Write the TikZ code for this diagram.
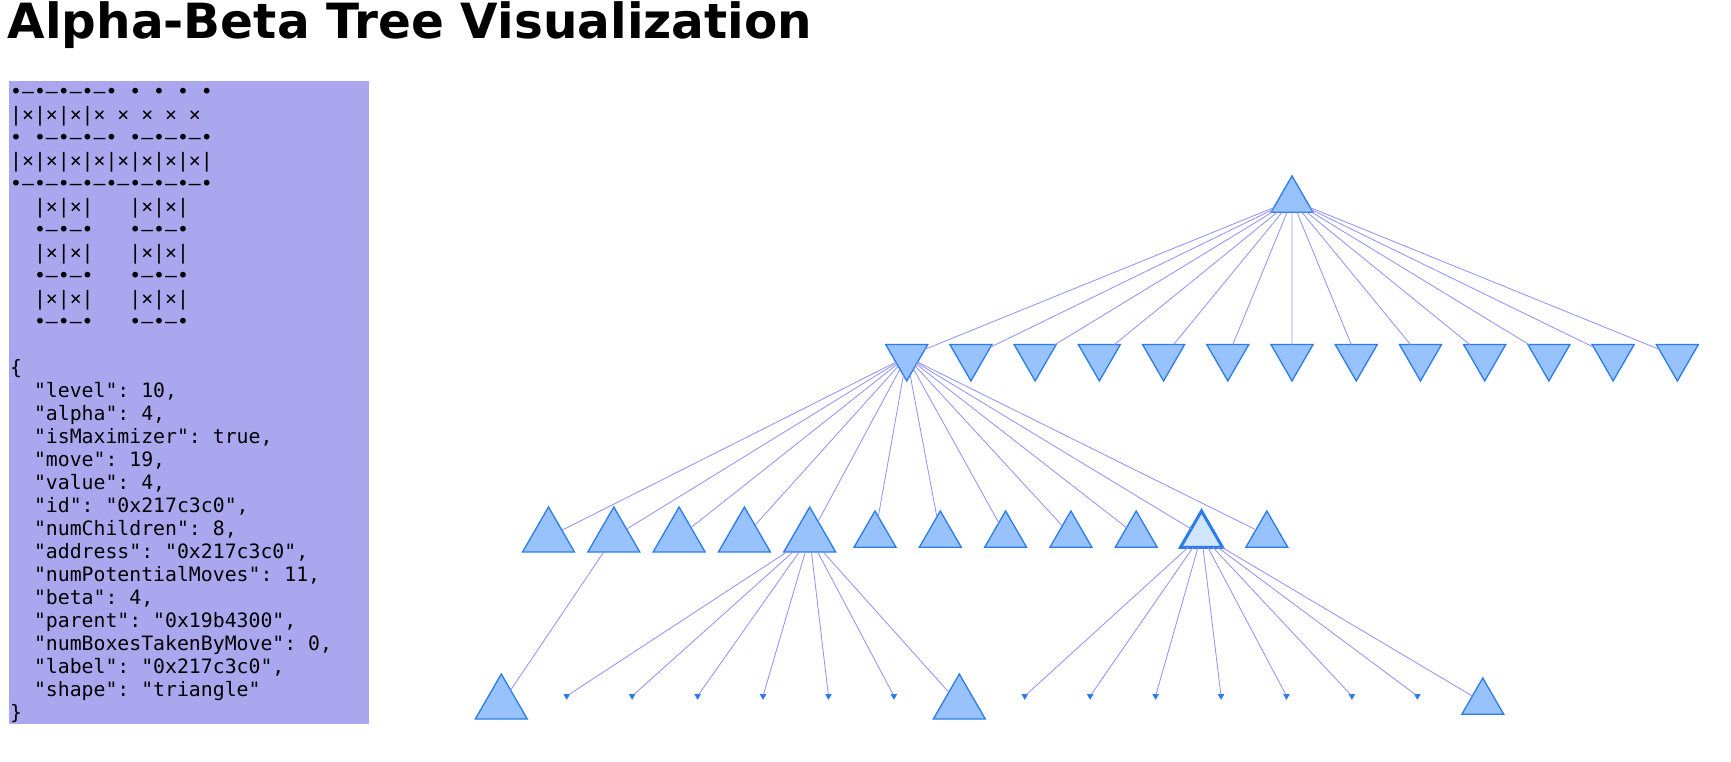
\documentclass[tikz,border=0pt]{standalone}
\usepackage{fontspec}
\setmainfont{DejaVu Sans}
\setmonofont{DejaVu Sans Mono}
\usetikzlibrary{shapes.geometric}
\definecolor{nodefill}{HTML}{97C2FC}
\definecolor{nodeline}{HTML}{2B7CE9}
\definecolor{hlfill}{HTML}{D2E5FF}
\definecolor{edgecol}{HTML}{9494F6}
\definecolor{infobg}{HTML}{ABA7EF}

\begin{document}
\begin{tikzpicture}[x=1pt, y=-1pt,
  tri/.style={regular polygon, regular polygon sides=3, draw=nodeline, fill=nodefill,
    line width=1.3pt, inner sep=0pt, outer sep=0pt, minimum size=48.5pt},
  maxsmall/.style={tri},
  maxbig/.style={tri, minimum size=60pt},
  minnode/.style={tri, shape border rotate=180},
  leaf/.style={tri, shape border rotate=180, minimum size=6pt, line width=0.8pt, fill=nodeline},
  picked/.style={tri, fill=hlfill, line width=3pt},
  edge/.style={draw=edgecol, line width=0.85pt},
  infoline/.style={anchor=base west, inner sep=0pt, font=\fontsize{19.8}{23}\selectfont\ttfamily}]
  \useasboundingbox (0,0) rectangle (1731,761);
  % title and info panel
  \node[anchor=base west, inner sep=0pt, font=\fontsize{48.5}{58}\selectfont\bfseries] (title) at (7.5,38.5) {Alpha-Beta Tree Visualization};
  \node[fill=infobg, anchor=north west, inner sep=0pt, minimum width=360, minimum height=643] (panel) at (9,81) {};
  \foreach \ln [count=\i from 0] in {
      {•—•—•—•—•~•~•~•~•}, {|×|×|×|×~×~×~×~×}, {•~•—•—•—•~•—•—•—•},
      {|×|×|×|×|×|×|×|×|}, {•—•—•—•—•—•—•—•—•},
      {~~|×|×|~~~|×|×|}, {~~•—•—•~~~•—•—•}, {~~|×|×|~~~|×|×|}, {~~•—•—•~~~•—•—•},
      {~~|×|×|~~~|×|×|}, {~~•—•—•~~~•—•—•}, {},
      {\{}, {~~"level":~10,}, {~~"alpha":~4,}, {~~"isMaximizer":~true,},
      {~~"move":~19,}, {~~"value":~4,}, {~~"id":~"0x217c3c0",}, {~~"numChildren":~8,},
      {~~"address":~"0x217c3c0",}, {~~"numPotentialMoves":~11,}, {~~"beta":~4,},
      {~~"parent":~"0x19b4300",}, {~~"numBoxesTakenByMove":~0,}, {~~"label":~"0x217c3c0",},
      {~~"shape":~"triangle"}, {\}}}
    \node[infoline] (info\i) at (10,98+23*\i) {\ln};

  % tree
  \node[maxsmall] (r) at (1292,200.2) {};
  \foreach \i in {1,...,13}
    \node[minnode] (a\i) at ({906.7+64.22*(\i-1)},356.7) {};
  \foreach \j/\s/\y in {1/maxbig/537,2/maxbig/537,3/maxbig/537,4/maxbig/537,5/maxbig/537,
      6/maxsmall/535.2,7/maxsmall/535.2,8/maxsmall/535.2,9/maxsmall/535.2,10/maxsmall/535.2,
      11/picked/535.2,12/maxsmall/535.2}
    \node[\s] (b\j) at ({548.5+65.3*(\j-1)},\y) {};
  \foreach \k/\s/\y in {1/maxbig/704,2/leaf/696,3/leaf/696,4/leaf/696,5/leaf/696,6/leaf/696,
      7/leaf/696,8/maxbig/704,9/leaf/696,10/leaf/696,11/leaf/696,12/leaf/696,13/leaf/696,
      14/leaf/696,15/leaf/696,16/maxsmall/702.2}
    \node[\s] (c\k) at ({501.3+65.43*(\k-1)},\y) {};

  \foreach \i in {1,...,13}
    \draw[edge] (r) -- (a\i);
  \foreach \j in {1,...,12}
    \draw[edge] (a1) -- (b\j);
  \draw[edge] (b2) -- (c1);
  \foreach \k in {2,...,8}
    \draw[edge] (b5) -- (c\k);
  \foreach \k in {9,...,16}
    \draw[edge] (b11) -- (c\k);
\end{tikzpicture}
\end{document}
